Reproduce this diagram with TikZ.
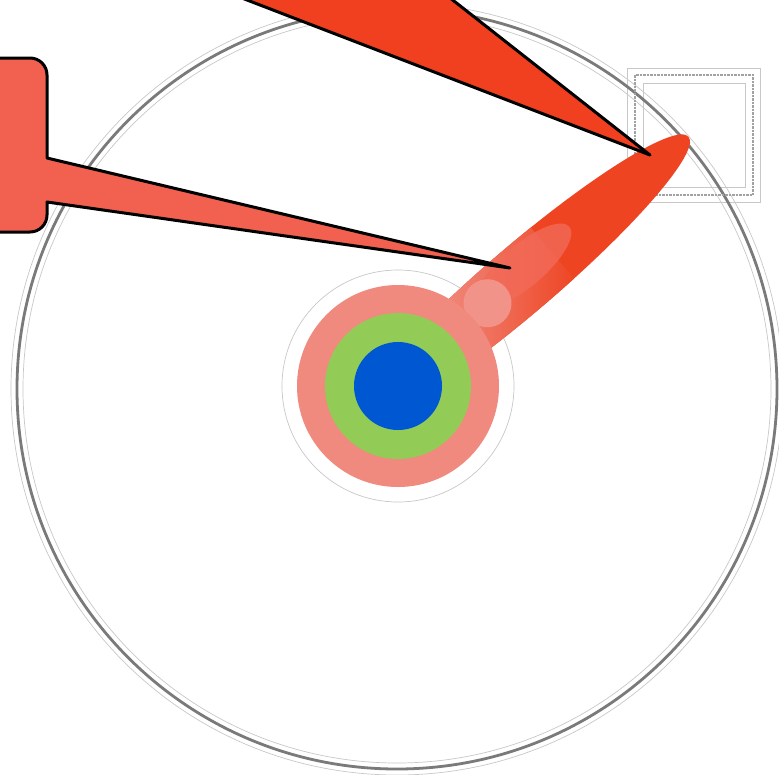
\documentclass[tikz,border=0pt]{standalone}
\usetikzlibrary{calc}
\definecolor{rimgray}{HTML}{7A7A7A}
\definecolor{ghostgray}{HTML}{C8C8C8}
\definecolor{salmon}{HTML}{F08A7E}
\definecolor{ringgreen}{HTML}{92CC56}
\definecolor{coreblue}{HTML}{0057D2}
\definecolor{flamered}{HTML}{EE4422}
\definecolor{flamemid}{HTML}{F26A58}
\definecolor{calltop}{HTML}{F04020}
\definecolor{callleft}{HTML}{F26050}

\begin{document}
\begin{tikzpicture}[x=1pt,y=-1pt]
    \useasboundingbox (0,0) rectangle (779,774);
    \clip (0,0) rectangle (779,774);
    \fill[white] (0,0) rectangle (779,774);

    \coordinate (O) at (397,389);
    \coordinate (B) at (398,386);
    \coordinate (F) at (522,279);
    \coordinate (T) at (650,155);
    \coordinate (L) at (510,268);

    % faint traced outlines
    \draw[ghostgray, line width=0.7pt] (O) circle (374pt);
    \draw[ghostgray, line width=0.7pt] (O) circle (386pt);
    \draw[ghostgray, line width=0.7pt] (B) circle (116pt);
    \draw[ghostgray, line width=0.7pt] (627,68) rectangle (760,202);
    \draw[ghostgray, line width=0.7pt] (643,83) rectangle (745,187);

    % the rim
    \draw[rimgray, line width=2.8pt] (O) circle (380pt);

    % small box
    \draw[rimgray!70, densely dotted, line width=2.5pt] (635,75) rectangle (753,195);

    % flame
    \begin{scope}[shift={(F)}, rotate=40.5]
        \clip (0,0) ellipse [x radius=219pt, y radius=34pt];
        \fill[flamered] (-220,-40) rectangle (220,40);
        \shade[left color=salmon, right color=flamered] (-75,-40) rectangle (40,40);
        \fill[salmon] (-230,-40) rectangle (-75,40);
        \fill[flamemid, opacity=0.8] (10,-9) ellipse [x radius=60pt, y radius=21pt];
        \fill[salmon!92!white] (-42,-4) circle (24pt);
    \end{scope}

    % blob
    \fill[salmon] (B) circle (101pt);
    \fill[ringgreen] (B) circle (73pt);
    \fill[coreblue] (B) circle (44pt);

    % callouts
    \draw[fill=calltop, line width=3pt, line join=round] (117,-50) -- (T) -- (389,-50) -- cycle;
    \draw[fill=callleft, line width=3pt, line join=round]
        (-50,58) [rounded corners=17pt] -- (47,58) [sharp corners] -- (47,158) -- (L) -- (47,202)
        [rounded corners=17pt] -- (47,232) -- (-50,232) [sharp corners] -- cycle;
\end{tikzpicture}
\end{document}
